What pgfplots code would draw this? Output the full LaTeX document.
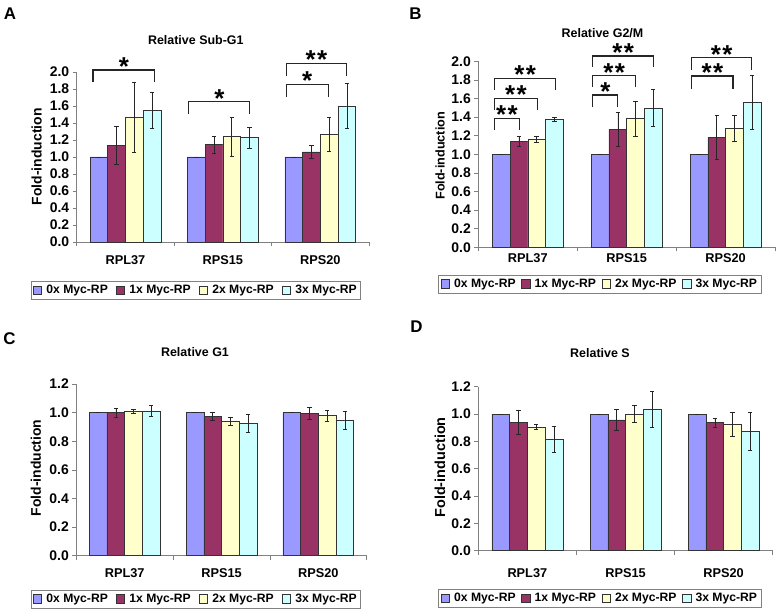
\documentclass[border=0pt]{standalone}
\usepackage{fontspec}
\setmainfont{Liberation Sans}
\usepackage{pgfplots}
\pgfplotsset{compat=1.18}

\definecolor{c0}{HTML}{9999FF}
\definecolor{c1}{HTML}{993366}
\definecolor{c2}{HTML}{FFFFCC}
\definecolor{c3}{HTML}{CCFFFF}
\definecolor{axgray}{HTML}{808080}

\pgfplotsset{
 panel/.style={
  scale only axis, anchor=south west,
  ybar=0pt, bar width=17.7bp,
  xmin=-0.5, xmax=2.5, ymin=0,
  axis x line*=bottom, axis y line*=left,
  axis line style={draw=axgray, line width=0.7bp},
  tick style={draw=axgray, line width=0.7bp},
  tick align=outside, major tick length=4bp,
  xtick={-0.5,0.5,1.5,2.5}, xticklabels={},
  extra x ticks={0,1,2}, extra x tick labels={RPL37,RPS15,RPS20},
  y tick label style={font=\fontsize{14}{14}\selectfont\bfseries},
  yticklabel style={/pgf/number format/.cd, fixed, fixed zerofill, precision=1, assume math mode=true},
  clip=false,
  legend columns=4,
  legend style={anchor=center, draw=axgray, line width=0.7bp,
    font=\fontsize{12.2}{12.2}\selectfont\bfseries,
    inner xsep=2bp, inner ysep=2bp},
  legend cell align=left,
 },
 lsep/.style={legend style={/tikz/every even column/.append style={column sep=#1}}},
 catlab/.style={extra x tick style={major tick length=0pt,
    x tick label style={font=\fontsize{12.8}{12.8}\selectfont\bfseries, yshift=#1}}},
 bar/.style={fill=#1, draw=black!80, line width=0.5bp,
   legend image code/.code={\draw[fill=#1, draw=black!80, line width=0.5bp] (0bp,-4bp) rectangle (8.5bp,4.5bp); \path (11bp,0bp);},
   error bars/.cd, y dir=both, y explicit,
   error bar style={draw=black!85, line width=0.5bp},
   error mark options={rotate=90, mark size=2.2bp, draw=black!85, line width=0.5bp}},
}
\tikzset{
 brkline/.style={draw=black!85, line width=1.1bp},
 sig/.style={font=\fontsize{26}{26}\selectfont\bfseries, anchor=base, inner sep=0pt, yshift=-5.5bp},
}
\newcommand\brk[5]{\draw[brkline] (axis cs:#1,#4) |- (axis cs:#2,#3) -- (axis cs:#2,#5);}
\newcommand\dstar{*\hspace{1.5bp}*}

\begin{document}
\begin{tikzpicture}
\useasboundingbox (0,0) rectangle (778bp,616bp);

% ---------- A ----------
\begin{axis}[panel, at={(76.7bp,374bp)}, width=292.3bp, height=170bp,
  ymax=2, ytick={0,0.2,0.4,0.6,0.8,1.0,1.2,1.4,1.6,1.8,2.0}, catlab=-10bp,
  lsep=6bp, legend style={at={(0.4076,-0.285)}}]
\addplot[bar=c0] table[row sep=\\, y error=e] {x y e\\ 0 1 0\\ 1 1 0\\ 2 1 0\\};
\addplot[bar=c1] table[row sep=\\, y error=e] {x y e\\ 0 1.14 0.225\\ 1 1.145 0.10\\ 2 1.06 0.077\\};
\addplot[bar=c2] table[row sep=\\, y error=e] {x y e\\ 0 1.47 0.415\\ 1 1.24 0.23\\ 2 1.265 0.2\\};
\addplot[bar=c3] table[row sep=\\, y error=e] {x y e\\ 0 1.55 0.21\\ 1 1.23 0.125\\ 2 1.60 0.267\\};
\legend{0x Myc-RP, 1x Myc-RP, 2x Myc-RP, 3x Myc-RP}
\brk{-0.333}{0.301}{2.024}{1.879}{1.879}
\node[sig] at (axis cs:-0.016,2.024) {*};
\brk{0.651}{1.277}{1.651}{1.506}{1.506}
\node[sig] at (axis cs:0.964,1.651) {*};
\brk{1.651}{2.271}{2.102}{1.957}{1.957}
\node[sig] at (axis cs:1.961,2.102) {\dstar};
\brk{1.651}{2.082}{1.855}{1.71}{1.71}
\node[sig] at (axis cs:1.866,1.855) {*};
\end{axis}

% ---------- B ----------
\begin{axis}[panel, at={(478.3bp,368.7bp)}, width=296.7bp, height=186bp,
  ymax=2, ytick={0,0.2,0.4,0.6,0.8,1.0,1.2,1.4,1.6,1.8,2.0}, catlab=-3bp,
  lsep=3.5bp, legend style={at={(0.4097,-0.197)}}]
\addplot[bar=c0] table[row sep=\\, y error=e] {x y e\\ 0 1 0\\ 1 1 0\\ 2 1 0\\};
\addplot[bar=c1] table[row sep=\\, y error=e] {x y e\\ 0 1.14 0.05\\ 1 1.27 0.18\\ 2 1.183 0.235\\};
\addplot[bar=c2] table[row sep=\\, y error=e] {x y e\\ 0 1.16 0.03\\ 1 1.385 0.19\\ 2 1.28 0.145\\};
\addplot[bar=c3] table[row sep=\\, y error=e] {x y e\\ 0 1.375 0.025\\ 1 1.50 0.20\\ 2 1.56 0.29\\};
\legend{0x Myc-RP, 1x Myc-RP, 2x Myc-RP, 3x Myc-RP}
\brk{-0.332}{-0.087}{1.387}{1.261}{1.261}
\node[sig] at (axis cs:-0.21,1.387) {\dstar};
\brk{-0.332}{0.094}{1.602}{1.476}{1.476}
\node[sig] at (axis cs:-0.119,1.602) {\dstar};
\brk{-0.332}{0.278}{1.817}{1.691}{1.691}
\node[sig] at (axis cs:-0.027,1.817) {\dstar};
\brk{0.658}{0.91}{1.638}{1.505}{1.505}
\node[sig] at (axis cs:0.784,1.638) {*};
\brk{0.658}{1.087}{1.845}{1.72}{1.72}
\node[sig] at (axis cs:0.873,1.845) {\dstar};
\brk{0.658}{1.271}{2.057}{1.942}{1.942}
\node[sig] at (axis cs:0.965,2.057) {\dstar};
\brk{1.66}{2.075}{1.842}{1.699}{1.699}
\node[sig] at (axis cs:1.868,1.842) {\dstar};
\brk{1.66}{2.26}{2.039}{1.906}{1.906}
\node[sig] at (axis cs:1.96,2.039) {\dstar};
\end{axis}

% ---------- C ----------
\begin{axis}[panel, at={(76.3bp,60.3bp)}, width=290.4bp, height=171.6bp,
  ymax=1.2, ytick={0,0.2,0.4,0.6,0.8,1.0,1.2}, catlab=-9bp,
  lsep=6bp, legend style={at={(0.4117,-0.2535)}}]
\addplot[bar=c0] table[row sep=\\, y error=e] {x y e\\ 0 1 0\\ 1 1 0\\ 2 1 0\\};
\addplot[bar=c1] table[row sep=\\, y error=e] {x y e\\ 0 1.0 0.03\\ 1 0.975 0.028\\ 2 0.997 0.04\\};
\addplot[bar=c2] table[row sep=\\, y error=e] {x y e\\ 0 1.008 0.015\\ 1 0.94 0.03\\ 2 0.98 0.037\\};
\addplot[bar=c3] table[row sep=\\, y error=e] {x y e\\ 0 1.012 0.04\\ 1 0.925 0.065\\ 2 0.95 0.063\\};
\legend{0x Myc-RP, 1x Myc-RP, 2x Myc-RP, 3x Myc-RP}
\end{axis}

% ---------- D ----------
\begin{axis}[panel, at={(478.3bp,65.3bp)}, width=294.4bp, height=164bp,
  ymax=1.2, ytick={0,0.2,0.4,0.6,0.8,1.0,1.2}, catlab=-14bp,
  lsep=3.5bp, legend style={at={(0.4129,-0.291)}}]
\addplot[bar=c0] table[row sep=\\, y error=e] {x y e\\ 0 1 0\\ 1 1 0\\ 2 1 0\\};
\addplot[bar=c1] table[row sep=\\, y error=e] {x y e\\ 0 0.94 0.09\\ 1 0.958 0.08\\ 2 0.937 0.032\\};
\addplot[bar=c2] table[row sep=\\, y error=e] {x y e\\ 0 0.905 0.018\\ 1 1.0 0.062\\ 2 0.925 0.088\\};
\addplot[bar=c3] table[row sep=\\, y error=e] {x y e\\ 0 0.815 0.097\\ 1 1.033 0.133\\ 2 0.873 0.139\\};
\legend{0x Myc-RP, 1x Myc-RP, 2x Myc-RP, 3x Myc-RP}
\end{axis}

\begin{scope}[shift={(0bp,616bp)}, x=1bp, y=-1bp, font=\bfseries]
\node[font=\fontsize{12.5}{12.5}\selectfont\bfseries] at (195.8,40) {Relative Sub-G1};
\node[font=\fontsize{12.5}{12.5}\selectfont\bfseries] at (602.5,33.5) {Relative G2/M};
\node[font=\fontsize{12.5}{12.5}\selectfont\bfseries] at (195,351.7) {Relative G1};
\node[font=\fontsize{12.5}{12.5}\selectfont\bfseries] at (600,353) {Relative S};
\node[font=\fontsize{17}{17}\selectfont\bfseries] at (10,14) {A};
\node[font=\fontsize{17}{17}\selectfont\bfseries] at (415.5,14) {B};
\node[font=\fontsize{17}{17}\selectfont\bfseries] at (9.5,339) {C};
\node[font=\fontsize{17}{17}\selectfont\bfseries] at (416.5,326.5) {D};
\node[rotate=90, font=\fontsize{14}{14}\selectfont\bfseries] at (36.7,156.7) {Fold-induction};
\node[rotate=90, font=\fontsize{12.7}{12.7}\selectfont\bfseries] at (440,155.8) {Fold-induction};
\node[rotate=90, font=\fontsize{14}{14}\selectfont\bfseries] at (36,468) {Fold-induction};
\node[rotate=90, font=\fontsize{14.5}{14.5}\selectfont\bfseries] at (440,467.5) {Fold-induction};
\end{scope}
\end{tikzpicture}
\end{document}
